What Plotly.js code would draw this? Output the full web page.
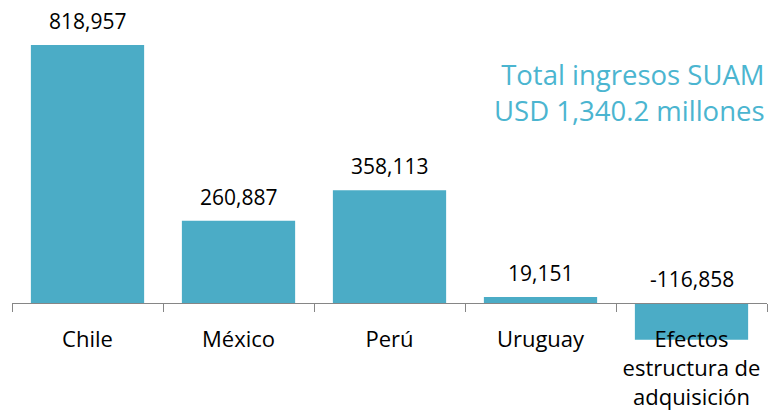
<!DOCTYPE html>
<html><head><meta charset="utf-8">
<script src="https://cdn.plot.ly/plotly-3.0.1.min.js"></script>
<style>body{margin:0;background:#fff}</style>
</head><body><div id="chart" style="width:770px;height:419px"></div>
<script>
const categories = ["Chile", "México", "Perú", "Uruguay", "Efectos<br>estructura de<br>adquisición"];
const values = [818957, 260887, 358113, 19151, -116858];
const valueLabels = ["818,957", "260,887", "358,113", "19,151", "-116,858"];
const totalText = "Total ingresos SUAM<br>USD 1,340.2 millones";

const yTop = 930000, yBottom = -149200;
const zeroFrac = (0 - yBottom) / (yTop - yBottom);

const trace = {
  type: "bar", x: categories, y: values,
  marker: {color: "#4BACC6"}, hoverinfo: "skip"
};
const annotations = categories.map((c, i) => ({
  x: c, y: Math.max(values[i], 0), xref: "x", yref: "y",
  text: valueLabels[i], showarrow: false, yanchor: "bottom", yshift: 8,
  font: {family: "Open Sans, sans-serif", size: 21, color: "#000"}
}));
annotations.push({
  xref: "paper", yref: "paper", x: 1.0, y: 0.87, xanchor: "right", yanchor: "top",
  text: totalText, showarrow: false, align: "right",
  font: {family: "Open Sans, sans-serif", size: 27.5, color: "#4BB5D0"}
});

const layout = {
  width: 770, height: 419,
  margin: {l: 12, r: 3, t: 10, b: 69},
  paper_bgcolor: "#fff", plot_bgcolor: "#fff",
  showlegend: false, bargap: 0.25,
  xaxis: {
    anchor: "free", position: zeroFrac,
    showline: true, linecolor: "#868686", linewidth: 1,
    ticks: "outside", tickson: "boundaries", ticklen: 8, tickcolor: "#868686",
    ticklabelstandoff: 17,
    tickfont: {family: "Open Sans, sans-serif", size: 22, color: "#000"},
    showgrid: false, fixedrange: true
  },
  yaxis: {range: [yBottom, yTop], visible: false, showgrid: false, zeroline: false, fixedrange: true},
  annotations: annotations
};
Plotly.newPlot("chart", [trace], layout, {displayModeBar: false, staticPlot: true});
</script></body></html>
